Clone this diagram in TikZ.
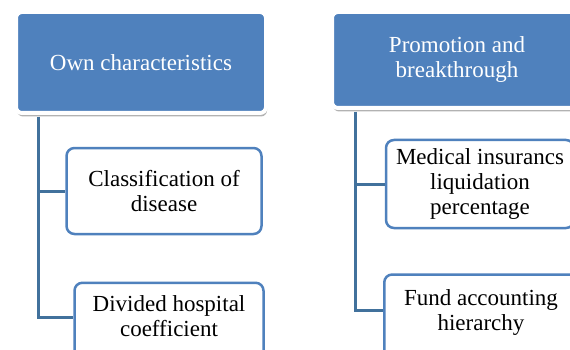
\documentclass[tikz,border=0pt]{standalone}
\usepackage{fontspec}
\setmainfont{Liberation Serif}
\usetikzlibrary{shadows}
\definecolor{headblue}{HTML}{4F81BD}
\definecolor{itemblue}{HTML}{4F81BD}
\definecolor{linkblue}{HTML}{41719C}
\tikzset{
 head/.style={rectangle,rounded corners=6pt,fill=headblue,draw=white,line width=4pt,text=white,align=center,inner sep=4pt,
   drop shadow={shadow xshift=1pt,shadow yshift=-3.5pt,opacity=.3,fill=black}},
 item/.style={rectangle,rounded corners=8pt,draw=itemblue,line width=2.5pt,fill=white,align=center,inner sep=4pt},
 link/.style={draw=linkblue,line width=3pt}
}

\begin{document}
\begin{tikzpicture}[x=1pt,y=-1pt,font=\fontsize{23}{25}\selectfont]
\clip (0,0) rectangle (570,350);
\fill[white] (0,0) rectangle (570,350);
\node[head,minimum width=250pt,minimum height=101pt] (own) at (141,62.5) {Own characteristics};
\node[head,minimum width=250pt,minimum height=96pt] (promo) at (457,60) {Promotion and\\breakthrough};
\node[item,minimum width=195pt,minimum height=86pt] (disease) at (164,191) {Classification of\\disease};
\node[item,minimum width=189pt,anchor=north,text height=49.5pt,text depth=40pt] (hospital) at (169,281.5) {Divided hospital\\coefficient};
\node[item,minimum width=188pt,minimum height=88pt] (insurance) at (480,184) {Medical insurancs\\liquidation\\percentage};
\node[item,minimum width=193.5pt,anchor=north,text height=51.75pt,text depth=40pt] (fund) at (481,273.25) {Fund accounting\\hierarchy};
\draw[link] ([xshift=24pt,yshift=-2pt]own.south west) |- (disease.west);
\draw[link] ([xshift=24pt,yshift=-2pt]own.south west) |- ([yshift=-35.5pt]hospital.north west);
\draw[link] ([xshift=25pt,yshift=-2pt]promo.south west) |- (insurance.west);
\draw[link] ([xshift=25pt,yshift=-2pt]promo.south west) |- ([yshift=-36.75pt]fund.north west);
\end{tikzpicture}
\end{document}
